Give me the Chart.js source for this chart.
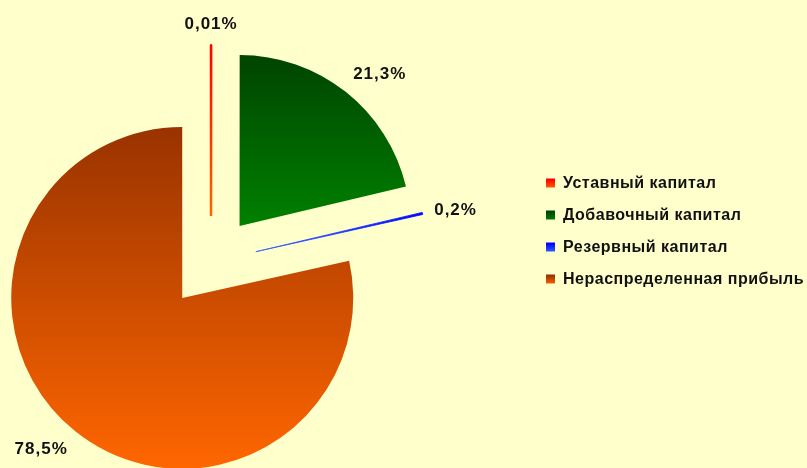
<!DOCTYPE html>
<html>
<head>
<meta charset="utf-8">
<script src="https://cdn.jsdelivr.net/npm/chart.js@4/dist/chart.umd.min.js"></script>
<style>
  html, body { margin: 0; padding: 0; background: #FFFFCC; }
  #wrap { width: 807px; height: 468px; position: relative; }
</style>
</head>
<body>
<div id="wrap"><canvas id="capitalChart"></canvas></div>
<script>
// Структура капитала, %
const categories = ['Уставный капитал', 'Добавочный капитал', 'Резервный капитал', 'Нераспределенная прибыль'];
const shares = [0.01, 21.3, 0.2, 78.5];
const shareLabels = ['0,01%', '21,3%', '0,2%', '78,5%'];

// gradient stops per slice: [top, bottom]
const sliceColors = [
    ['#FF0000', '#FF6600'],
    ['#004400', '#008000'],
    ['#0000FF', '#3366FF'],
    ['#993300', '#FF6600']
];

const RADIUS = 171;
const EXPLODE = 46;
const FONT = '"Liberation Sans", Arial, sans-serif';

function sliceAngles(i) {
    const total = shares.reduce((a, b) => a + b, 0);
    const before = shares.slice(0, i).reduce((a, b) => a + b, 0);
    const start = -Math.PI / 2 + 2 * Math.PI * before / total;
    const end = start + 2 * Math.PI * shares[i] / total;
    return { start, end, mid: (start + end) / 2 };
}

// vertical gradient over the exploded slice's own height
function sliceGradient(c) {
    const chart = c.chart;
    const area = chart.chartArea;
    const i = c.dataIndex;
    if (!area) return sliceColors[i][1];
    const { start, end, mid } = sliceAngles(i);
    const cy = (area.top + area.bottom) / 2 + Math.sin(mid) * EXPLODE;
    let minY = cy, maxY = cy;
    for (let k = 0; k <= 60; k++) {
        const y = cy + Math.sin(start + (end - start) * k / 60) * RADIUS;
        minY = Math.min(minY, y);
        maxY = Math.max(maxY, y);
    }
    const g = chart.ctx.createLinearGradient(0, minY, 0, maxY);
    g.addColorStop(0, sliceColors[i][0]);
    g.addColorStop(1, sliceColors[i][1]);
    return g;
}

// pull every slice out along its middle angle
const explodePlugin = {
    id: 'explode',
    afterDatasetsUpdate(chart) {
        chart.getDatasetMeta(0).data.forEach(arc => {
            const mid = (arc.startAngle + arc.endAngle) / 2;
            arc.x += Math.cos(mid) * EXPLODE;
            arc.y += Math.sin(mid) * EXPLODE;
        });
    }
};

const backgroundPlugin = {
    id: 'bg',
    beforeDraw(chart) {
        const ctx = chart.ctx;
        ctx.save();
        ctx.fillStyle = '#FFFFCC';
        ctx.fillRect(0, 0, chart.width, chart.height);
        ctx.restore();
    }
};

// percent labels outside each slice
const labelPlugin = {
    id: 'sliceLabels',
    afterDatasetsDraw(chart) {
        const ctx = chart.ctx;
        ctx.save();
        ctx.font = 'bold 17px ' + FONT;
        ctx.letterSpacing = '1px';
        ctx.fillStyle = '#111111';
        chart.getDatasetMeta(0).data.forEach((arc, i) => {
            const mid = (arc.startAngle + arc.endAngle) / 2;
            const cos = Math.cos(mid), sin = Math.sin(mid);
            const r = arc.outerRadius + 12;
            ctx.textAlign = cos > 0.3 ? 'left' : (cos < -0.3 ? 'right' : 'center');
            ctx.textBaseline = sin < -0.3 ? 'bottom' : (sin > 0.3 ? 'top' : 'middle');
            ctx.fillText(shareLabels[i], arc.x + cos * r, arc.y + sin * r);
        });
        ctx.restore();
    }
};

// legend on the right
const legendPlugin = {
    id: 'sideLegend',
    afterDraw(chart) {
        const ctx = chart.ctx;
        const left = 546, top = 184, step = 32, box = 9;
        ctx.save();
        ctx.font = 'bold 16px ' + FONT;
        ctx.letterSpacing = '0.5px';
        ctx.textBaseline = 'middle';
        ctx.textAlign = 'left';
        categories.forEach((name, i) => {
            const y = top + i * step;
            const g = ctx.createLinearGradient(0, y - box / 2, 0, y + box / 2);
            g.addColorStop(0, sliceColors[i][0]);
            g.addColorStop(1, sliceColors[i][1]);
            ctx.fillStyle = g;
            ctx.fillRect(left, y - box / 2 - 1, box, box);
            ctx.fillStyle = '#111111';
            ctx.fillText(name, left + 17, y);
        });
        ctx.restore();
    }
};

new Chart(document.getElementById('capitalChart'), {
    type: 'pie',
    plugins: [backgroundPlugin, explodePlugin, labelPlugin, legendPlugin],
    data: {
        labels: categories,
        datasets: [{
            data: shares,
            backgroundColor: sliceGradient,
            borderColor: sliceGradient,
            borderWidth: [2.5, 0, 0.8, 0],
            radius: RADIUS
        }]
    },
    options: {
        responsive: true,
        maintainAspectRatio: false,
        animation: false,
        events: [],
        layout: { padding: { left: 0, right: 385, top: 56, bottom: 0 } },
        plugins: {
            legend: { display: false },
            tooltip: { enabled: false }
        }
    }
});
</script>
</body>
</html>
